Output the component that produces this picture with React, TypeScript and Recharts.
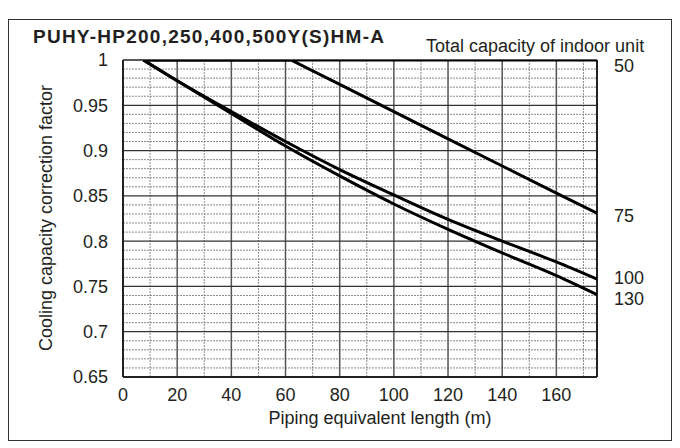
import { LineChart, Line, XAxis, YAxis, ReferenceLine, LabelList } from "recharts";

// piping equivalent length (m) and capacity factor per indoor unit total capacity
const lengths50 = [7.5, 175];
const factor50 = [1, 1];

const lengths75 = [7.5, 62, 80, 100, 120, 140, 160, 175];
const factor75 = [1, 1, 0.973, 0.943, 0.913, 0.883, 0.853, 0.831];

const lengths100 = [7.5, 20, 40, 60, 80, 100, 120, 140, 160, 175];
const factor100 = [1, 0.977, 0.943, 0.91, 0.879, 0.851, 0.824, 0.8, 0.777, 0.758];

const lengths130 = [7.5, 20, 40, 60, 80, 100, 120, 140, 160, 175];
const factor130 = [1, 0.977, 0.941, 0.905, 0.872, 0.841, 0.813, 0.787, 0.762, 0.741];

const xTicks = [0, 20, 40, 60, 80, 100, 120, 140, 160];
const yTicks = [0.65, 0.7, 0.75, 0.8, 0.85, 0.9, 0.95, 1];

const xMinor = [10, 30, 50, 70, 90, 110, 130, 150, 170];
const yMinor: number[] = [];
for (let i = 66; i < 100; i++) {
  if (i % 5 !== 0) yMinor.push(i / 100);
}

const toPoints = (xs: number[], ys: number[]) => xs.map((x, i) => ({ x, y: ys[i] }));

const series = [
  { name: "50", data: toPoints(lengths50, factor50), dy: 6, curve: "linear" },
  { name: "75", data: toPoints(lengths75, factor75), dy: 3, curve: "linear" },
  { name: "100", data: toPoints(lengths100, factor100), dy: -1, curve: "monotone" },
  { name: "130", data: toPoints(lengths130, factor130), dy: 4, curve: "monotone" },
];

const TEXT = "#231f20";
const FONT = "'Liberation Sans', Arial, sans-serif";

const endLabel = (name: string, last: number, dy: number) => (props: any) => {
  if (props.index !== last) return null;
  return (
    <text
      x={props.x + 17}
      y={props.y + dy}
      dominantBaseline="central"
      fontSize={18}
      fontFamily={FONT}
      fill={TEXT}
    >
      {name}
    </text>
  );
};

export default function App() {
  return (
    <div style={{ position: "absolute", left: 0, top: 0, width: 680, height: 448, background: "#fff", fontFamily: FONT }}>
      <div style={{ position: "absolute", left: 8, top: 19, width: 662, height: 420, border: "1.5px solid #333" }} />
      <div style={{ position: "absolute", left: 33, top: 27, fontSize: 19, fontWeight: 700, letterSpacing: 1.25, color: TEXT, whiteSpace: "nowrap", lineHeight: "19px" }}>
        PUHY-HP200,250,400,500Y(S)HM-A
      </div>
      <div style={{ position: "absolute", left: 426, top: 37, fontSize: 18, color: TEXT, whiteSpace: "nowrap", lineHeight: "18px" }}>
        Total capacity of indoor unit
      </div>
      <div
        style={{
          position: "absolute",
          left: 45.5,
          top: 218,
          transform: "translate(-50%, -50%) rotate(-90deg)",
          fontSize: 18,
          color: TEXT,
          whiteSpace: "nowrap",
          lineHeight: "22px",
        }}
      >
        Cooling capacity correction factor
      </div>
      <div style={{ position: "absolute", left: 380, top: 418, transform: "translate(-50%, -50%)", fontSize: 18, color: TEXT, whiteSpace: "nowrap", lineHeight: "22px" }}>
        Piping equivalent length (m)
      </div>
      <div style={{ position: "absolute", left: 0, top: 0 }}>
        <LineChart width={680} height={448} margin={{ top: 60, right: 83, left: 0, bottom: 0 }}>
          <XAxis
            type="number"
            dataKey="x"
            domain={[0, 175]}
            ticks={xTicks}
            allowDataOverflow
            height={71}
            tickLine={false}
            axisLine={false}
            tickSize={6}
            tickMargin={5}
            tick={{ fontSize: 18, fill: TEXT, fontFamily: FONT }}
          />
          <YAxis
            type="number"
            dataKey="y"
            domain={[0.65, 1]}
            ticks={yTicks}
            allowDataOverflow
            width={123}
            tickLine={false}
            axisLine={false}
            tickSize={6}
            tickMargin={9}
            tickFormatter={(v: number) => String(Number(v.toFixed(2)))}
            tick={{ fontSize: 18, fill: TEXT, fontFamily: FONT }}
          />
          {xMinor.map((v) => (
            <ReferenceLine key={"xm" + v} x={v} stroke="#8a8a8a" strokeWidth={1} strokeDasharray="2 1" />
          ))}
          {yMinor.map((v) => (
            <ReferenceLine key={"ym" + v} y={v} stroke="#8a8a8a" strokeWidth={1} strokeDasharray="2 1" />
          ))}
          {xTicks.slice(1).map((v) => (
            <ReferenceLine key={"xM" + v} x={v} stroke="#555" strokeWidth={1.5} />
          ))}
          {yTicks.slice(1, -1).map((v) => (
            <ReferenceLine key={"yM" + v} y={v} stroke="#333" strokeWidth={1.3} />
          ))}
          <ReferenceLine x={0} stroke="#222" strokeWidth={2} />
          <ReferenceLine x={175} stroke="#222" strokeWidth={2} />
          <ReferenceLine y={0.65} stroke="#222" strokeWidth={2} />
          <ReferenceLine y={1} stroke="#222" strokeWidth={1.5} />
          {series.map((s) => (
            <Line
              key={s.name}
              data={s.data}
              dataKey="y"
              type={s.curve as any}
              stroke="#000"
              strokeWidth={3}
              dot={false}
              isAnimationActive={false}
            >
              <LabelList dataKey="y" content={endLabel(s.name, s.data.length - 1, s.dy)} />
            </Line>
          ))}
        </LineChart>
      </div>
    </div>
  );
}
